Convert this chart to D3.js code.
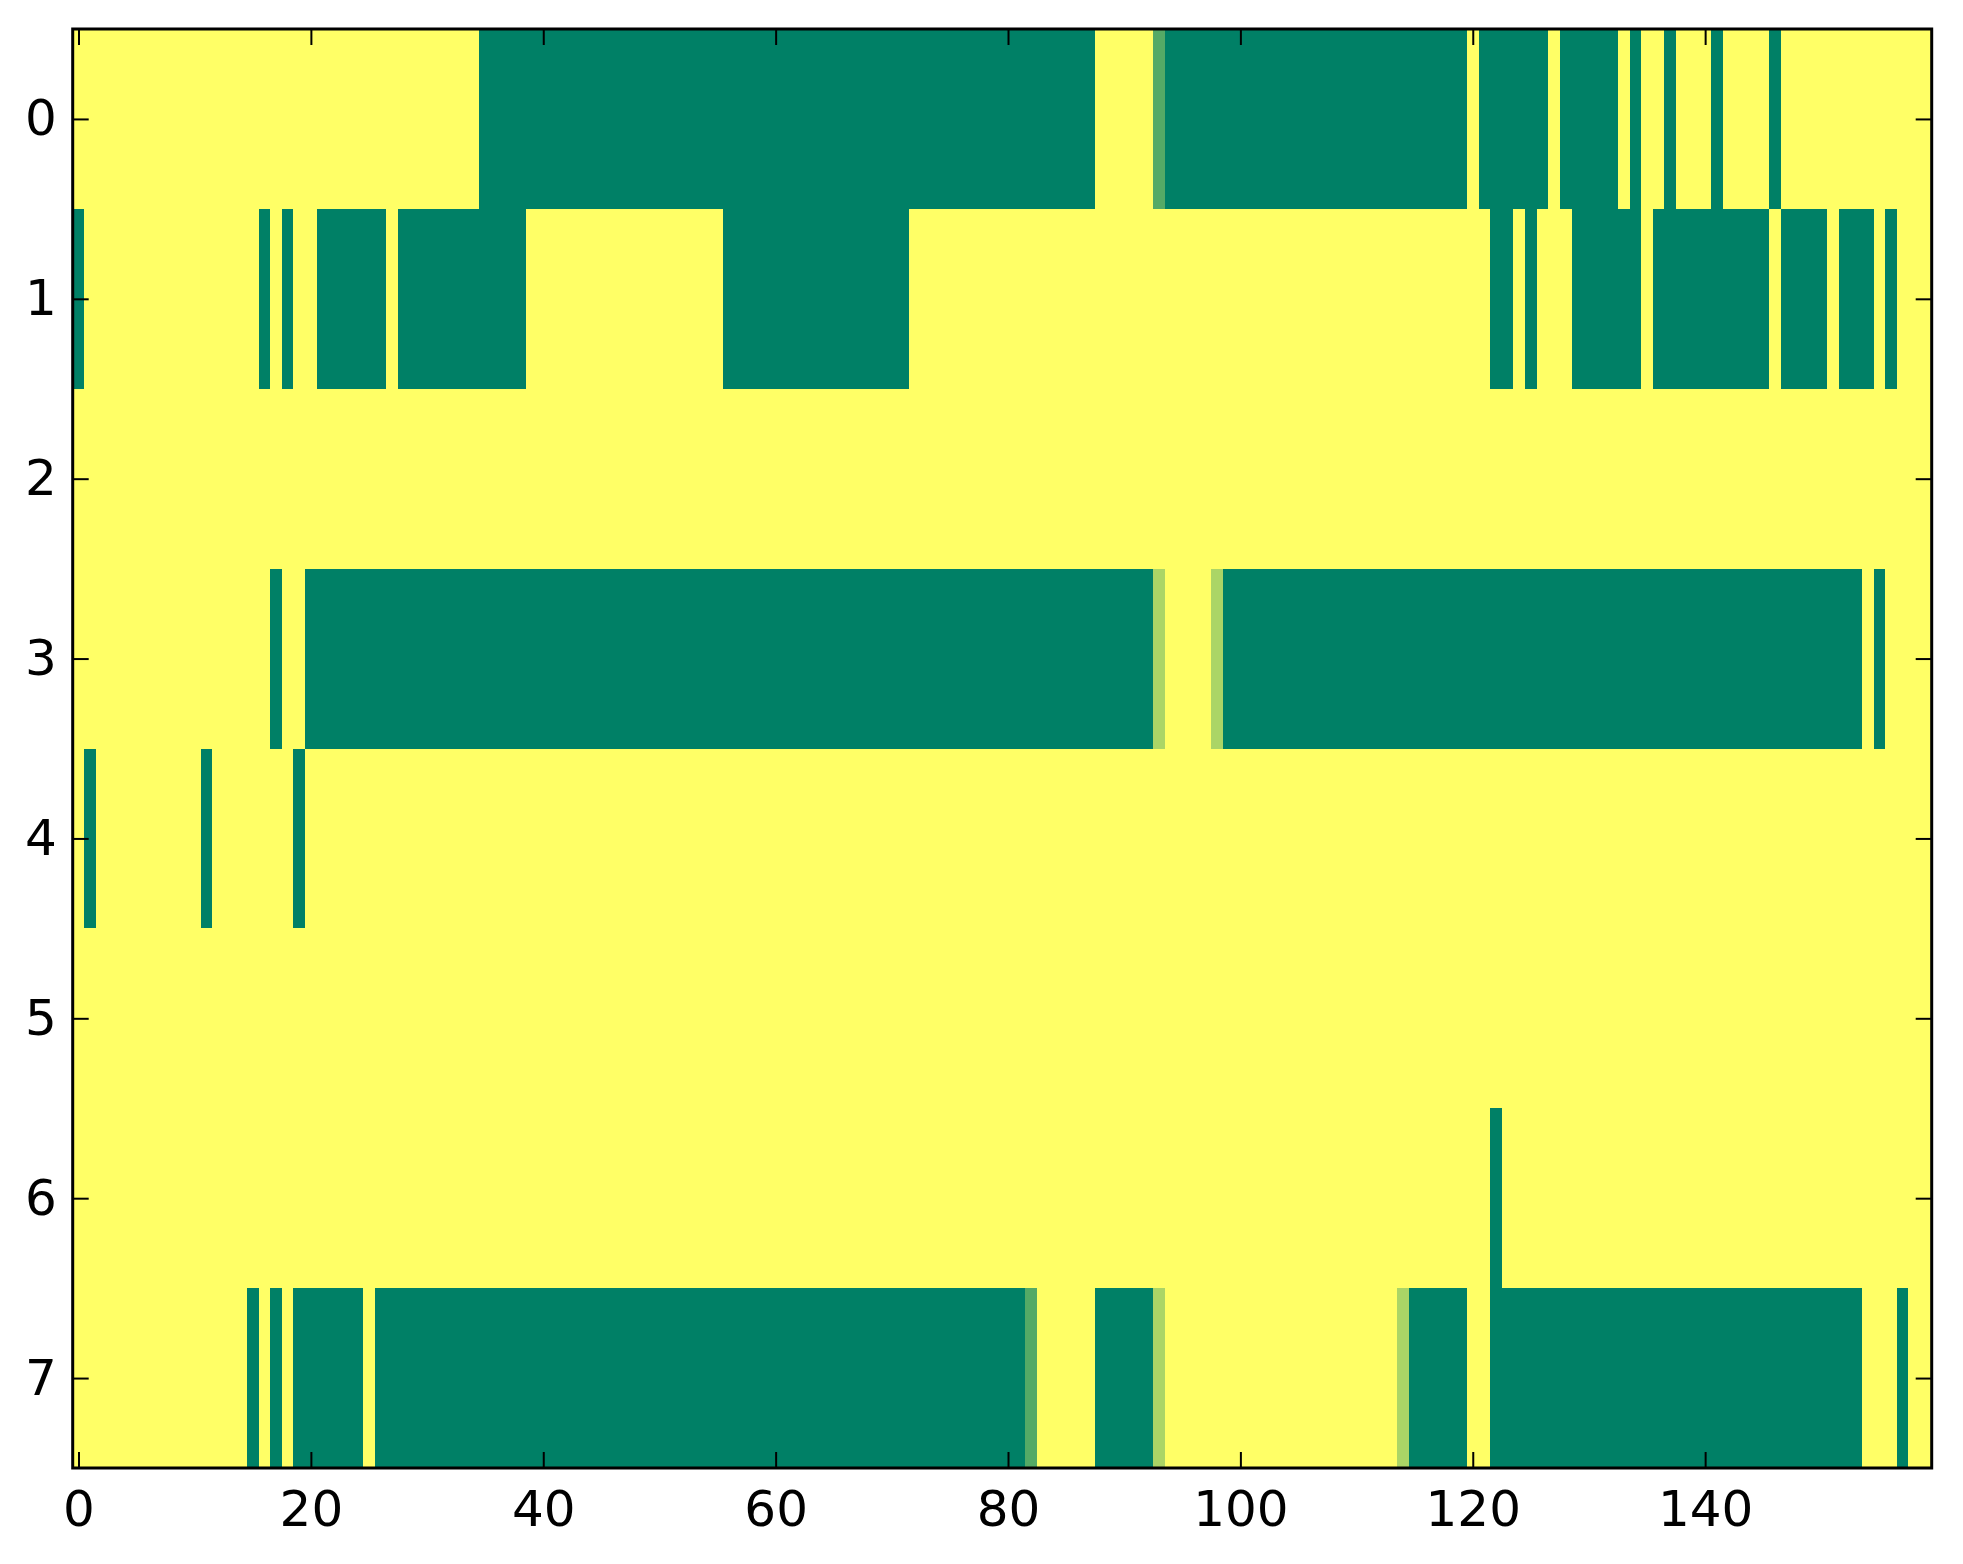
<!DOCTYPE html>
<html>
<head>
<meta charset="utf-8">
<script src="https://cdn.jsdelivr.net/npm/d3@7"></script>
<style>
  body { margin: 0; background: #fff; }
  .tick text { font-family: "DejaVu Sans", sans-serif; font-size: 50px; fill: #000; }
  .tick line { stroke: #000; stroke-width: 2px; }
</style>
</head>
<body>
<div id="chart"></div>
<script>
// one run list per row: [value, number of columns]
// 1 = yellow end of the colormap, 0 = dark green end
const row0 = [[1, 35], [0, 53], [1, 5], [0.33, 1], [0, 26], [1, 1], [0, 6], [1, 1], [0, 5], [1, 1],
              [0, 1], [1, 2], [0, 1], [1, 3], [0, 1], [1, 4], [0, 1], [1, 13]];
const row1 = [[0, 1], [1, 15], [0, 1], [1, 1], [0, 1], [1, 2], [0, 6], [1, 1], [0, 11], [1, 17],
              [0, 16], [1, 50], [0, 2], [1, 1], [0, 1], [1, 3], [0, 6], [1, 1], [0, 10], [1, 1],
              [0, 4], [1, 1], [0, 3], [1, 1], [0, 1], [1, 3]];
const row2 = [[1, 160]];
const row3 = [[1, 17], [0, 1], [1, 2], [0, 73], [0.67, 1], [1, 4], [0.67, 1], [0, 55], [1, 1], [0, 1], [1, 4]];
const row4 = [[1, 1], [0, 1], [1, 9], [0, 1], [1, 7], [0, 1], [1, 140]];
const row5 = [[1, 160]];
const row6 = [[1, 122], [0, 1], [1, 37]];
const row7 = [[1, 15], [0, 1], [1, 1], [0, 1], [1, 1], [0, 6], [1, 1], [0, 56], [0.33, 1], [1, 5],
              [0, 5], [0.67, 1], [1, 20], [0.67, 1], [0, 5], [1, 2], [0, 32], [1, 3], [0, 1], [1, 2]];

const rows = [row0, row1, row2, row3, row4, row5, row6, row7];
const nCols = 160;
const xTicks = [0, 20, 40, 60, 80, 100, 120, 140];
const yTicks = [0, 1, 2, 3, 4, 5, 6, 7];

const width = 1963, height = 1564;
const plot = { left: 72.7, right: 1931.7, top: 29, bottom: 1468 };

// expand the runs into cells
let cells = [];
rows.forEach(function (runs, r) {
    let c = 0;
    runs.forEach(function (run) {
        for (let k = 0; k < run[1]; k++) {
            cells.push({ row: r, col: c, value: run[0] });
            c++;
        }
    });
});

const x = d3.scaleLinear().domain([-0.5, nCols - 0.5]).range([plot.left, plot.right]);
const y = d3.scaleLinear().domain([-0.5, rows.length - 0.5]).range([plot.top, plot.bottom]);
// matplotlib "summer": (v, 0.5 + 0.5v, 0.4)
const color = d3.scaleLinear().domain([0, 1]).range(["#008066", "#ffff66"]).interpolate(d3.interpolateRgb);

const svg = d3.select("#chart").append("svg")
    .attr("width", width)
    .attr("height", height);

svg.append("rect").attr("width", width).attr("height", height).attr("fill", "#fff");

svg.append("g")
    .attr("shape-rendering", "crispEdges")
    .selectAll("rect")
    .data(cells)
    .enter()
    .append("rect")
    .attr("x", d => x(d.col - 0.5))
    .attr("y", d => y(d.row - 0.5))
    .attr("width", d => x(d.col + 0.5) - x(d.col - 0.5) + 0.5)
    .attr("height", d => y(d.row + 0.5) - y(d.row - 0.5) + 0.5)
    .attr("fill", d => color(d.value));

const tickLen = 16;

svg.append("g")
    .attr("transform", "translate(0," + plot.bottom + ")")
    .call(d3.axisBottom(x).tickValues(xTicks).tickSizeInner(-tickLen).tickSizeOuter(0).tickPadding(22))
    .call(g => g.select(".domain").remove());

svg.append("g")
    .attr("transform", "translate(0," + plot.top + ")")
    .call(d3.axisTop(x).tickValues(xTicks).tickSizeInner(-tickLen).tickSizeOuter(0).tickFormat(""))
    .call(g => g.select(".domain").remove());

svg.append("g")
    .attr("transform", "translate(" + plot.left + ",0)")
    .call(d3.axisLeft(y).tickValues(yTicks).tickSizeInner(-tickLen).tickSizeOuter(0).tickPadding(16))
    .call(g => g.select(".domain").remove());

svg.append("g")
    .attr("transform", "translate(" + plot.right + ",0)")
    .call(d3.axisRight(y).tickValues(yTicks).tickSizeInner(-tickLen).tickSizeOuter(0).tickFormat(""))
    .call(g => g.select(".domain").remove());

svg.selectAll(".tick text").attr("fill", "#000");

// frame
svg.append("rect")
    .attr("x", plot.left)
    .attr("y", plot.top)
    .attr("width", plot.right - plot.left)
    .attr("height", plot.bottom - plot.top)
    .attr("fill", "none")
    .attr("stroke", "#000")
    .attr("stroke-width", 3);
</script>
</body>
</html>
